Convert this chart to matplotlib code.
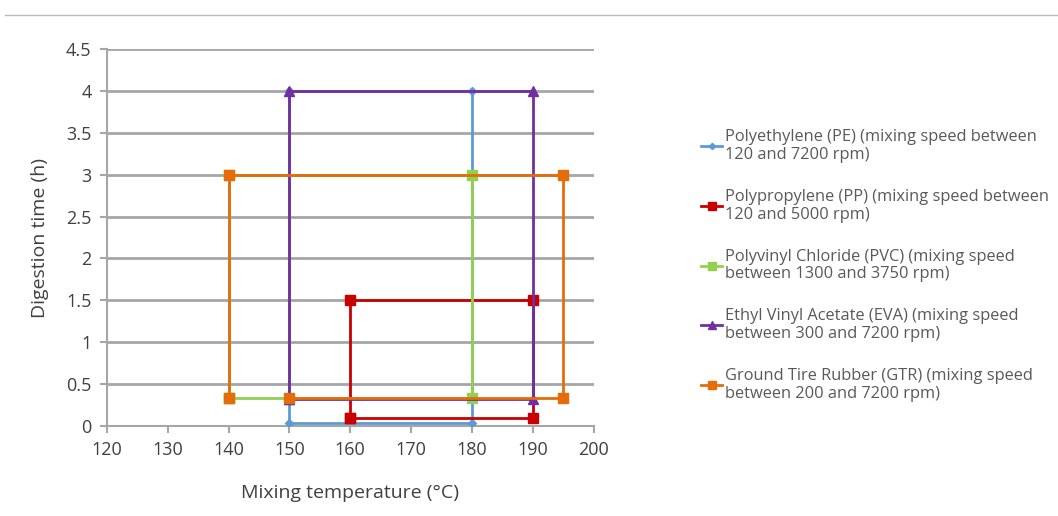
import matplotlib.pyplot as plt
from matplotlib.lines import Line2D

plt.rcParams['font.family'] = ['Open Sans', 'DejaVu Sans']

# rectangles traced in the order the original chart draws them
pe_temp = [150, 150, 180, 180, 150]
pe_time = [4, 0.035, 0.035, 4, 4]

pp_temp = [160, 190, 190, 160, 160]
pp_time = [0.1, 0.1, 1.5, 1.5, 0.1]

pvc_temp = [140, 180, 180, 140, 140]
pvc_time = [0.33, 0.33, 3, 3, 0.33]

eva_temp = [150, 190, 190, 150, 150]
eva_time = [0.32, 0.32, 4, 4, 0.32]

gtr_temp = [150, 195, 195, 140, 140]
gtr_time = [0.33, 0.33, 3, 3, 0.33]

labels = [
    "Polyethylene (PE) (mixing speed between\n120 and 7200 rpm)",
    "Polypropylene (PP) (mixing speed between\n120 and 5000 rpm)",
    "Polyvinyl Chloride (PVC) (mixing speed\nbetween 1300 and 3750 rpm)",
    "Ethyl Vinyl Acetate (EVA) (mixing speed\nbetween 300 and 7200 rpm)",
    "Ground Tire Rubber (GTR) (mixing speed\nbetween 200 and 7200 rpm)",
]

series = [
    (pe_temp, pe_time, '#5B9BD5', 'D', 4),
    (pp_temp, pp_time, '#C80000', 's', 7),
    (pvc_temp, pvc_time, '#92D050', 's', 7),
    (eva_temp, eva_time, '#7030A0', '^', 7),
    (gtr_temp, gtr_time, '#E46C0A', 's', 7),
]

fig = plt.figure(figsize=(10.58, 5.16), dpi=100)
ax = fig.add_axes([0.101, 0.1744, 0.460, 0.7306])

# thin separator line at the top of the page
fig.add_artist(Line2D([0.005, 1.0], [0.971, 0.971], color='#BBBBBB', lw=1))

for x, y, c, m, ms in series:
    ax.plot(x, y, color=c, lw=2, marker=m, markersize=ms, zorder=3)

ax.set_xlim(120, 200)
ax.set_ylim(0, 4.5)
ax.set_xticks(range(120, 201, 10))
ax.set_yticks([0, 0.5, 1, 1.5, 2, 2.5, 3, 3.5, 4, 4.5])
ax.set_yticklabels(['0', '0.5', '1', '1.5', '2', '2.5', '3', '3.5', '4', '4.5'])
ax.grid(axis='y', color='#A6A6A6', lw=2, zorder=0)
ax.set_axisbelow(True)

for s in ['top', 'right']:
    ax.spines[s].set_visible(False)
for s in ['left', 'bottom']:
    ax.spines[s].set_color('#A6A6A6')
    ax.spines[s].set_linewidth(1.5)
ax.tick_params(axis='x', colors='#A6A6A6', width=1.5, length=5, pad=6,
               labelcolor='#404040', labelsize=13)
ax.tick_params(axis='y', colors='#A6A6A6', width=1.5, length=5, pad=6,
               labelcolor='#404040', labelsize=13)

ax.set_xlabel('Mixing temperature (°C)', fontsize=14, color='#404040', labelpad=18)
ax.set_ylabel('Digestion time (h)', fontsize=14, color='#404040', labelpad=12)

handles = [Line2D([0], [0], color=c, lw=2, marker=m, markersize=ms * 0.8)
           for _, _, c, m, ms in series]
leg = fig.legend(handles, labels, loc='upper left', bbox_to_anchor=(0.655, 0.765),
                 frameon=False, fontsize=11.8, labelspacing=1.6, handlelength=1.3,
                 handletextpad=0.15, borderpad=0)
for t in leg.get_texts():
    t.set_color('#595959')
    t.set_linespacing(1.12)

fig.savefig('out.png', dpi=100)
